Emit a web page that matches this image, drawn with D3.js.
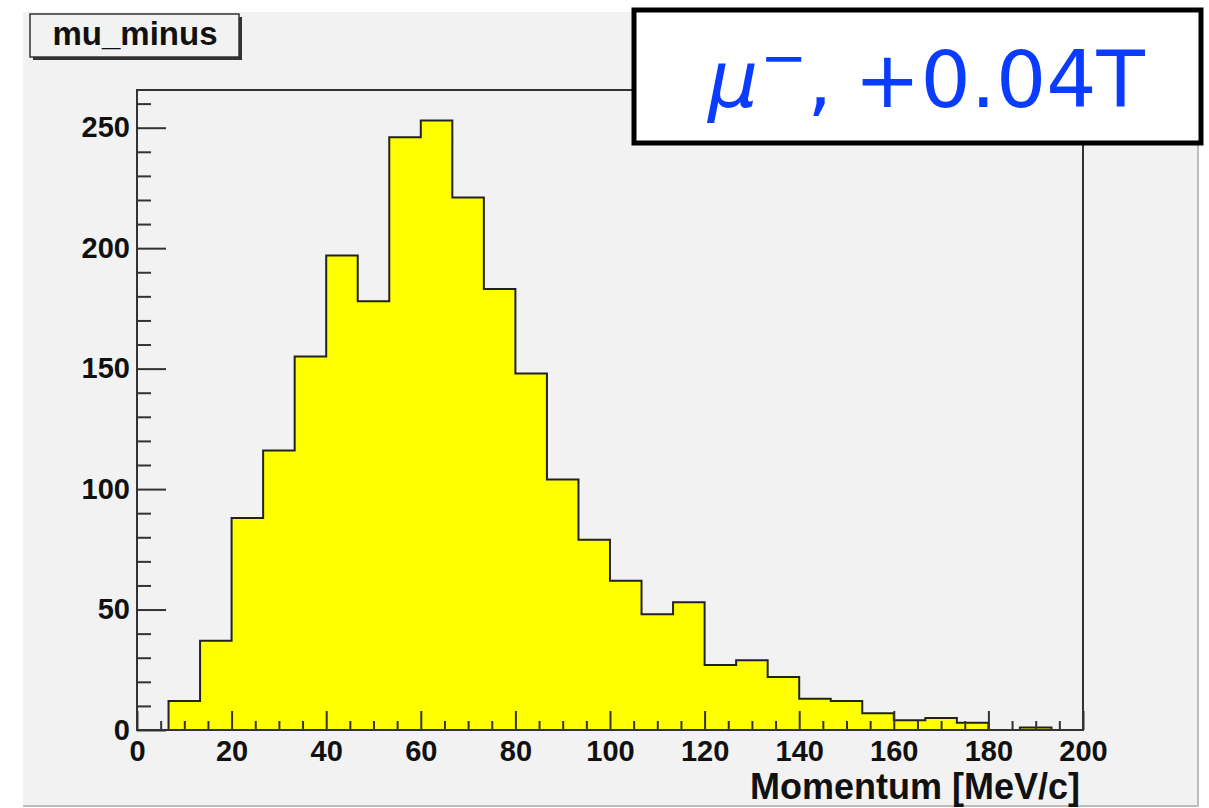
<!DOCTYPE html>
<html>
<head>
<meta charset="utf-8">
<script src="https://cdn.jsdelivr.net/npm/d3@7"></script>
<style>
  body { margin: 0; background: #ffffff; }
  svg { display: block; }
  .tick text { font-family: "Liberation Sans", Arial, sans-serif; font-weight: bold; font-size: 29px; fill: #111; }
  .tick line { stroke: #333; stroke-width: 2; }
</style>
</head>
<body>
<div id="chart"></div>
<script>
// histogram: 30 bins from 0 to 200 MeV/c
const nBins = 30;
const xMin = 0;
const xMax = 200;
const counts = [0, 12, 37, 88, 116, 155, 197, 178, 246, 253,
                221, 183, 148, 104, 79, 62, 48, 53, 27, 29,
                22, 13, 12, 7, 4, 5, 3, 0, 1, 0];
const xMajorTicks = [0, 20, 40, 60, 80, 100, 120, 140, 160, 180, 200];
const yMajorTicks = [0, 50, 100, 150, 200, 250];
const histTitle = 'mu_minus';
const xTitle = 'Momentum [MeV/c]';

const w = 1209;
const h = 808;
const padL = 137, padR = 1083, padT = 90, padB = 730;

const svg = d3.select('#chart')
    .append('svg')
    .attr('width', w)
    .attr('height', h);

// canvas
svg.append('rect')
    .attr('x', 23).attr('y', 12)
    .attr('width', 1175).attr('height', 794)
    .attr('fill', '#f2f2f2');
svg.append('path')
    .attr('d', 'M1198,12V806H23')
    .attr('fill', 'none')
    .attr('stroke', '#bdbdbd')
    .attr('stroke-width', 2);

const binWidth = (xMax - xMin) / nBins;
const bins = counts.map((c, i) => ({x: xMin + i * binWidth, y: c}));
bins.push({x: xMax, y: counts[counts.length - 1]});

const yMax = d3.max(counts) * 1.05;

const xScale = d3.scaleLinear()
    .domain([xMin, xMax])
    .range([padL, padR]);

const yScale = d3.scaleLinear()
    .domain([0, yMax])
    .range([padB, padT]);

const area = d3.area()
    .curve(d3.curveStepAfter)
    .x(d => xScale(d.x))
    .y0(yScale(0))
    .y1(d => yScale(d.y));

svg.append('path')
    .datum(bins)
    .attr('d', area)
    .attr('fill', '#ffff00')
    .attr('stroke', '#222')
    .attr('stroke-width', 2);

// frame
svg.append('rect')
    .attr('x', padL).attr('y', padT)
    .attr('width', padR - padL).attr('height', padB - padT)
    .attr('fill', 'none')
    .attr('stroke', '#333')
    .attr('stroke-width', 2);

// axes, ticks pointing inwards
const xMinor = d3.range(xMin, xMax + 1, 5).filter(v => v % 20 !== 0);
const yMinor = d3.range(0, yMax, 10).filter(v => v % 50 !== 0);

const xAxis = svg.append('g')
    .attr('transform', 'translate(0,' + padB + ')')
    .call(d3.axisBottom(xScale).tickValues(xMajorTicks).tickSize(-19).tickPadding(10).tickFormat(d3.format('d')));
xAxis.select('.domain').remove();

const xAxisMinor = svg.append('g')
    .attr('transform', 'translate(0,' + padB + ')')
    .call(d3.axisBottom(xScale).tickValues(xMinor).tickSize(-9).tickFormat(''));
xAxisMinor.select('.domain').remove();

const yAxis = svg.append('g')
    .attr('transform', 'translate(' + padL + ',0)')
    .call(d3.axisLeft(yScale).tickValues(yMajorTicks).tickSize(-29).tickPadding(7));
yAxis.select('.domain').remove();

const yAxisMinor = svg.append('g')
    .attr('transform', 'translate(' + padL + ',0)')
    .call(d3.axisLeft(yScale).tickValues(yMinor).tickSize(-14).tickFormat(''));
yAxisMinor.select('.domain').remove();

// x title
svg.append('text')
    .attr('x', 1080)
    .attr('y', 799)
    .attr('text-anchor', 'end')
    .style('font-family', '"Liberation Sans", Arial, sans-serif')
    .style('font-weight', 'bold')
    .style('font-size', '36px')
    .attr('fill', '#111')
    .text(xTitle);

// histogram title box
svg.append('rect')
    .attr('x', 33).attr('y', 17)
    .attr('width', 209).attr('height', 43)
    .attr('fill', '#333');
svg.append('rect')
    .attr('x', 30).attr('y', 14)
    .attr('width', 209).attr('height', 43)
    .attr('fill', '#f2f2f2')
    .attr('stroke', '#333')
    .attr('stroke-width', 1.5);
svg.append('text')
    .attr('x', 135)
    .attr('y', 45)
    .attr('text-anchor', 'middle')
    .style('font-family', '"Liberation Sans", Arial, sans-serif')
    .style('font-weight', 'bold')
    .style('font-size', '33px')
    .attr('fill', '#111')
    .text(histTitle);

// label box
svg.append('rect')
    .attr('x', 634).attr('y', 10)
    .attr('width', 567).attr('height', 133)
    .attr('fill', '#ffffff')
    .attr('stroke', '#000')
    .attr('stroke-width', 5);

const label = svg.append('text')
    .attr('x', 708)
    .attr('y', 107)
    .style('font-family', '"DejaVu Sans", sans-serif')
    .style('font-size', '79px')
    .attr('fill', '#0a3cff');
label.append('tspan').style('font-style', 'italic').text('\u03bc');
label.append('tspan').attr('dx', 2).attr('dy', -30).style('font-size', '56px').text('\u2212');
label.append('tspan').attr('dy', 30).text(',');
label.append('tspan').attr('dx', 22).text('+0.04T');
</script>
</body>
</html>
